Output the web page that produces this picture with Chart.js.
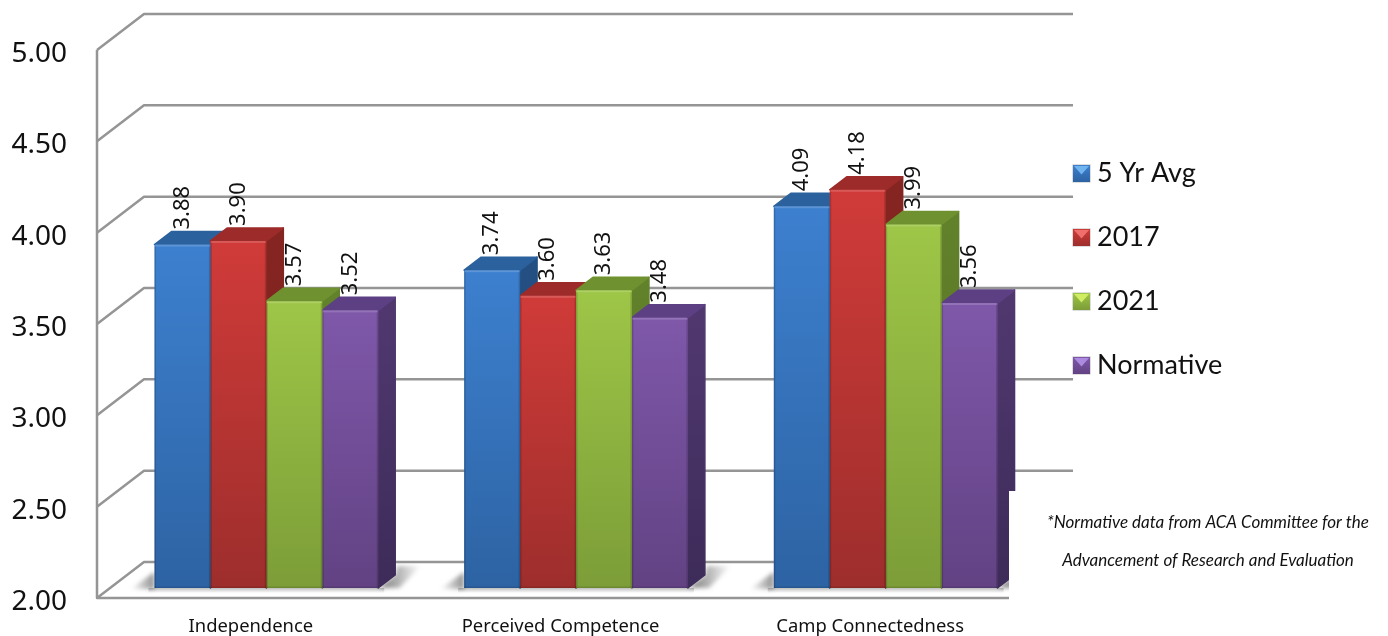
<!DOCTYPE html>
<html>
<head>
<meta charset="utf-8">
<title>Camp outcomes</title>
<script src="https://cdn.jsdelivr.net/npm/chart.js@4"></script>
<style>
  html, body { margin: 0; padding: 0; background: #fff; }
  #wrap { width: 1388px; height: 636px; }
</style>
</head>
<body>
<div id="wrap"><canvas id="myChart" width="1388" height="636"></canvas></div>
<script>
const categorias = ['Independence', 'Perceived Competence', 'Camp Connectedness'];
const series = ['5 Yr Avg', '2017', '2021', 'Normative'];
const avg5 = [3.88, 3.74, 4.09];
const y2017 = [3.90, 3.60, 4.18];
const y2021 = [3.57, 3.63, 3.99];
const normative = [3.52, 3.48, 3.56];
const nota = ['*Normative data from ACA Committee for the', 'Advancement of Research and Evaluation'];

// front top, front bottom, top face, side top, side bottom, legend light
const tonos = [
  ['#3d80cf', '#2d63a3', '#2b619c', '#244f83', '#1f4672', '#6fb4ee'],
  ['#d03b39', '#9d2e2c', '#9c2b29', '#852521', '#74201d', '#ef6f6c'],
  ['#9ec647', '#7c9d38', '#6f9130', '#62812b', '#566f25', '#d0ec62'],
  ['#7f58aa', '#624283', '#5d4084', '#50386f', '#3d2b59', '#ab8ae0']
];

// 3d box depth and how far the boxes sit in from the front of the floor
const prof = { x: 17, y: 13 };
const wall = { x: 47, y: 36 };
const shiftX = 15.5;
const shiftY = -10;
const grisLinea = '#959595';

function frontFill(c) {
  const t = tonos[c.datasetIndex];
  const y = c.chart.scales.y;
  if (!c.chart.chartArea || c.raw === undefined) return t[0];
  const g = c.chart.ctx.createLinearGradient(0, y.getPixelForValue(c.raw), 0, y.bottom);
  g.addColorStop(0, t[0]);
  g.addColorStop(1, t[1]);
  return g;
}

function poly(ctx, pts, fill) {
  ctx.beginPath();
  pts.forEach((p, i) => i ? ctx.lineTo(p[0], p[1]) : ctx.moveTo(p[0], p[1]));
  ctx.closePath();
  ctx.fillStyle = fill;
  ctx.strokeStyle = fill;
  ctx.lineWidth = 1.5;
  ctx.lineJoin = 'round';
  ctx.fill();
  ctx.stroke();
}

function floorShadow(ctx, x0, x1, pts) {
  const g = ctx.createLinearGradient(x0, 0, x1, 0);
  g.addColorStop(0, 'rgba(70,70,70,0.6)');
  g.addColorStop(1, 'rgba(70,70,70,0)');
  ctx.beginPath();
  pts.forEach((p, i) => i ? ctx.lineTo(p[0], p[1]) : ctx.moveTo(p[0], p[1]));
  ctx.closePath();
  ctx.fillStyle = g;
  ctx.filter = 'blur(2px)';
  ctx.fill();
  ctx.filter = 'none';
}

const box3d = {
  id: 'box3d',
  beforeDatasetsDraw(chart) {
    const ctx = chart.ctx, y = chart.scales.y;
    ctx.save();
    // back wall lines with the slanted piece down to the front axis
    ctx.strokeStyle = grisLinea;
    ctx.lineWidth = 2.5;
    ctx.lineJoin = 'round';
    y.ticks.forEach(t => {
      const py = y.getPixelForValue(t.value);
      ctx.beginPath();
      ctx.moveTo(chart.chartArea.left + 1, py);
      ctx.lineTo(chart.chartArea.left + 1 + wall.x, py - wall.y);
      ctx.lineTo(1073, py - wall.y);
      ctx.stroke();
    });
    ctx.beginPath();
    ctx.moveTo(chart.chartArea.left + 1, y.top);
    ctx.lineTo(chart.chartArea.left + 1, y.bottom);
    ctx.lineTo(1009, y.bottom);
    ctx.stroke();

    ctx.translate(shiftX, shiftY);

    // soft shadow either side of each group on the floor, and a thin one under it
    const b = y.bottom;
    const izq = chart.getDatasetMeta(0).data;
    const der = chart.getDatasetMeta(3).data;
    izq.forEach((bar, j) => {
      const l = bar.x - bar.width / 2;
      const r = der[j].x + der[j].width / 2;
      floorShadow(ctx, l, l - 24, [[l, b - 16], [l, b + 1], [l - 24, b + 1]]);
      floorShadow(ctx, r + prof.x - 8, r + prof.x + 26, [[r, b], [r + prof.x, b - prof.y], [r + prof.x + 2, b - 22], [r + prof.x + 26, b - 22], [r + prof.x + 4, b]]);
      const g = ctx.createLinearGradient(0, b, 0, b + 5);
      g.addColorStop(0, 'rgba(70,70,70,0.35)');
      g.addColorStop(1, 'rgba(70,70,70,0)');
      ctx.fillStyle = g;
      ctx.fillRect(l - 6, b, r - l + 12, 5);
    });

    // sides and tops go left to right, the fronts are painted over them afterwards
    chart.data.datasets.forEach((ds, i) => {
      const t = tonos[i];
      chart.getDatasetMeta(i).data.forEach(bar => {
        const l = bar.x - bar.width / 2, r = bar.x + bar.width / 2;
        const g = ctx.createLinearGradient(0, bar.y, 0, bar.base);
        g.addColorStop(0, t[3]);
        g.addColorStop(1, t[4]);
        poly(ctx, [[r, bar.y], [r + prof.x, bar.y - prof.y], [r + prof.x, bar.base - prof.y], [r, bar.base]], g);
        poly(ctx, [[l, bar.y], [l + prof.x, bar.y - prof.y], [r + prof.x, bar.y - prof.y], [r, bar.y]], t[2]);
      });
    });
    ctx.restore();
  },
  beforeDatasetDraw(chart) {
    chart.ctx.save();
    chart.ctx.translate(shiftX, shiftY);
  },
  afterDatasetDraw(chart, args) {
    const ctx = chart.ctx;
    // bevel on the front face
    args.meta.data.forEach(bar => {
      const l = bar.x - bar.width / 2, r = bar.x + bar.width / 2;
      ctx.fillStyle = 'rgba(255,255,255,0.16)';
      ctx.fillRect(l + 1, bar.y, bar.width - 2, 2);
      ctx.fillStyle = 'rgba(0,0,0,0.16)';
      ctx.fillRect(l, bar.y + 2, 1.5, bar.base - bar.y - 2);
      ctx.fillRect(r - 1.5, bar.y + 2, 1.5, bar.base - bar.y - 2);
      ctx.fillStyle = 'rgba(0,0,0,0.12)';
      ctx.fillRect(l, bar.base - 1.5, bar.width, 1.5);
    });
    ctx.restore();
  },
  afterDatasetsDraw(chart) {
    const ctx = chart.ctx;
    ctx.save();
    // white panel behind the note
    ctx.fillStyle = '#fff';
    ctx.fillRect(1009, 491, 379, 145);

    // value labels, rotated, just above the top of each box
    ctx.fillStyle = '#111';
    ctx.font = '22px "Noto Sans"';
    ctx.textAlign = 'left';
    ctx.textBaseline = 'middle';
    chart.data.datasets.forEach((ds, i) => {
      chart.getDatasetMeta(i).data.forEach((bar, j) => {
        ctx.save();
        ctx.translate(bar.x + shiftX, bar.y + shiftY - prof.y - 2);
        ctx.rotate(-Math.PI / 2);
        ctx.fillText(ds.data[j].toFixed(2), 0, 0);
        ctx.restore();
      });
    });

    // legend
    chart.data.datasets.forEach((ds, i) => {
      const t = tonos[i], x = 1073, s = 17, top = 165 + i * 64;
      ctx.fillStyle = '#bbb';
      ctx.fillRect(x - 0.5, top - 0.5, s + 1, s + 1);
      const g = ctx.createLinearGradient(0, top, 0, top + s);
      g.addColorStop(0, t[0]);
      g.addColorStop(1, t[1]);
      ctx.fillStyle = g;
      ctx.fillRect(x, top, s, s);
      ctx.beginPath();
      ctx.moveTo(x + 1, top + 1);
      ctx.lineTo(x + s - 1, top + 1);
      ctx.lineTo(x + s / 2, top + s / 2 + 1);
      ctx.closePath();
      ctx.fillStyle = t[5];
      ctx.fill();
      ctx.fillStyle = '#111';
      ctx.font = '27px Lato';
      ctx.textAlign = 'left';
      ctx.textBaseline = 'middle';
      ctx.fillText(ds.label, 1097, top + 8);
    });

    // note
    ctx.font = 'italic 17px Lato';
    ctx.textAlign = 'center';
    ctx.fillText(nota[0], 1208, 523);
    ctx.fillText(nota[1], 1208, 561);
    ctx.restore();
  }
};

const valores = [avg5, y2017, y2021, normative];

new Chart(document.getElementById('myChart'), {
  type: 'bar',
  data: {
    labels: categorias,
    datasets: series.map((nombre, i) => ({
      label: nombre,
      data: valores[i],
      base: 2,
      backgroundColor: frontFill,
      borderRadius: 1,
      clip: false
    }))
  },
  options: {
    responsive: false,
    animation: false,
    categoryPercentage: 224 / 310,
    barPercentage: 1,
    layout: { padding: { top: 50, right: 363 } },
    plugins: { legend: { display: false }, tooltip: { enabled: false } },
    scales: {
      x: {
        grid: { display: false },
        border: { display: false },
        afterFit(s) { s.height = 38; },
        ticks: { color: '#111', font: { family: 'Noto Sans', size: 18.4 }, padding: 10, maxRotation: 0 }
      },
      y: {
        min: 2,
        max: 5,
        afterFit(s) { s.width = 96; },
        grid: { display: false },
        border: { display: false },
        ticks: {
          stepSize: 0.5,
          color: '#111',
          font: { family: 'Noto Sans', size: 28 },
          padding: 21,
          labelOffset: 4,
          callback: v => v.toFixed(2)
        }
      }
    }
  },
  plugins: [box3d]
});
</script>
</body>
</html>
